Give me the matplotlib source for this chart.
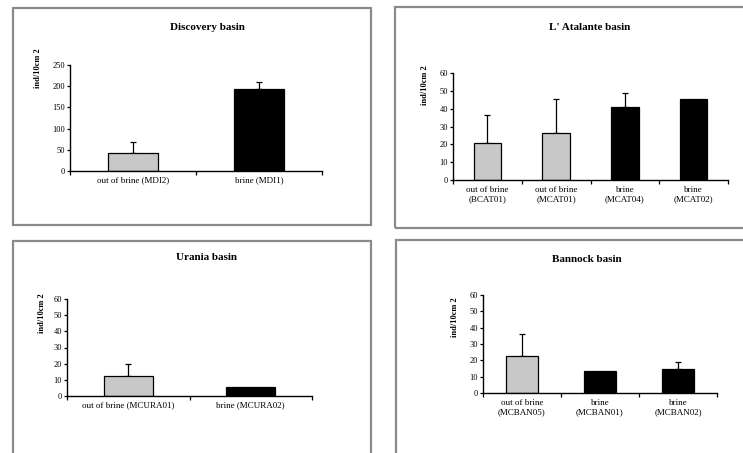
import numpy as np
import matplotlib.pyplot as plt
from matplotlib.patches import Rectangle

plt.rcParams['font.family'] = ['Liberation Serif', 'DejaVu Serif']

GRAY = '#c8c8c8'
BLACK = '#000000'

# Discovery basin
disc_labels = ['out of brine (MDI2)', 'brine (MDI1)']
disc_vals = [43, 193]
disc_err = [26, 17]
disc_colors = [GRAY, BLACK]

# L' Atalante basin
atal_labels = ['out of brine\n(BCAT01)', 'out of brine\n(MCAT01)',
               'brine\n(MCAT04)', 'brine\n(MCAT02)']
atal_vals = [21, 26.5, 41, 45.5]
atal_err = [15.5, 19, 8, 0]
atal_colors = [GRAY, GRAY, BLACK, BLACK]

# Urania basin
uran_labels = ['out of brine (MCURA01)', 'brine (MCURA02)']
uran_vals = [12.5, 5.5]
uran_err = [7.5, 0]
uran_colors = [GRAY, BLACK]

# Bannock basin
bann_labels = ['out of brine\n(MCBAN05)', 'brine\n(MCBAN01)', 'brine\n(MCBAN02)']
bann_vals = [22.5, 13.5, 15]
bann_err = [13.5, 0, 4]
bann_colors = [GRAY, BLACK, BLACK]

W, H = 743, 453
fig = plt.figure(figsize=(W / 100, H / 100), dpi=100)


def px_box(x0, y0, x1, y1):
    return [x0 / W, 1 - y1 / H, (x1 - x0) / W, (y1 - y0) / H]


# grey frames around each panel
for x0, y0, x1, y1 in [(13, 8, 371, 225), (395, 7, 770, 228),
                       (13, 241, 371, 480), (396, 240, 770, 480)]:
    fig.patches.append(Rectangle((x0 / W, 1 - y1 / H), (x1 - x0) / W, (y1 - y0) / H,
                                 transform=fig.transFigure, fill=False,
                                 edgecolor='#8a8a8a', linewidth=1.6))


def panel(box, labels, vals, err, colors, ymax, ystep, title, title_xy, ylab_xy):
    ax = fig.add_axes(box)
    x = np.arange(len(vals))
    ax.bar(x, vals, width=0.4, color=colors, edgecolor='black', linewidth=0.9, zorder=2)
    # upper error bars only, skipped where there is none
    err = np.array(err)
    has = err > 0
    ax.errorbar(x[has], np.array(vals)[has], yerr=[np.zeros(has.sum()), err[has]],
                fmt='none', ecolor='black', elinewidth=0.9, capsize=2, capthick=0.9, zorder=1)
    ax.set_xlim(-0.5, len(vals) - 0.5)
    ax.set_ylim(0, ymax)
    ax.set_yticks(np.arange(0, ymax + 1, ystep))
    ax.set_xticks(x)
    ax.set_xticklabels(labels, fontsize=6.5, linespacing=1.25)
    ax.set_xticks(np.arange(-0.5, len(vals)), minor=True)
    ax.tick_params(axis='x', which='major', length=0, pad=4)
    ax.tick_params(axis='x', which='minor', length=3, width=0.9)
    ax.tick_params(axis='y', labelsize=6, length=2.5, width=0.9, pad=1)
    for s in ['top', 'right']:
        ax.spines[s].set_visible(False)
    for s in ['left', 'bottom']:
        ax.spines[s].set_linewidth(1.0)
    fig.text(title_xy[0] / W, 1 - title_xy[1] / H, title, ha='center', va='center',
             fontsize=8, fontweight='bold')
    fig.text(ylab_xy[0] / W, 1 - ylab_xy[1] / H, 'ind/10cm 2', ha='center', va='center',
             rotation=90, fontsize=6, fontweight='bold')
    return ax


panel(px_box(70, 65, 322, 171), disc_labels, disc_vals, disc_err, disc_colors,
      250, 50, 'Discovery basin', (207, 27), (38, 68))
panel(px_box(453, 73, 728, 180), atal_labels, atal_vals, atal_err, atal_colors,
      60, 10, "L' Atalante basin", (590, 27), (425, 85))
panel(px_box(67, 299, 312, 396), uran_labels, uran_vals, uran_err, uran_colors,
      60, 10, 'Urania basin', (206, 258), (42, 313))
panel(px_box(483, 295, 717, 393), bann_labels, bann_vals, bann_err, bann_colors,
      60, 10, 'Bannock basin', (587, 259), (455, 317))

fig.savefig('out.png', dpi=100)
